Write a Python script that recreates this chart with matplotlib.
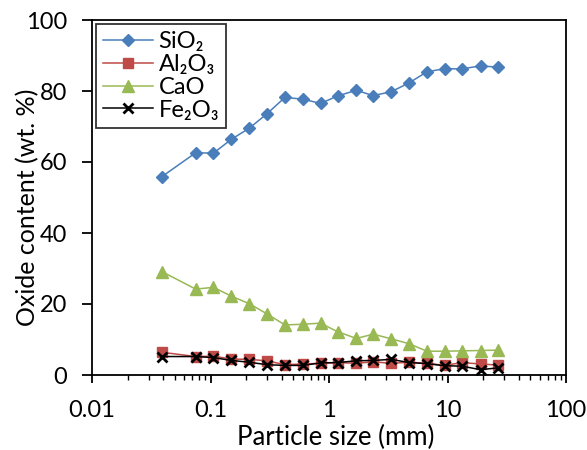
import matplotlib
matplotlib.use("Agg")
import matplotlib.pyplot as plt
from matplotlib.ticker import LogLocator, FixedLocator, NullFormatter

plt.rcParams['font.family'] = ['Lato', 'DejaVu Sans']

# ---- DATA ----
size_mm = [0.039, 0.075, 0.106, 0.15, 0.212, 0.3, 0.425, 0.6, 0.85, 1.18,
           1.7, 2.36, 3.35, 4.75, 6.7, 9.5, 13.2, 19.0, 26.5]
sio2 = [55.9, 62.6, 62.5, 66.4, 69.5, 73.6, 78.2, 77.7, 76.5, 78.6,
        80.2, 78.7, 79.8, 82.3, 85.4, 86.3, 86.2, 87.1, 86.7]
al2o3 = [6.4, 5.2, 5.3, 4.5, 4.4, 4.0, 2.9, 3.1, 3.3, 3.5,
         3.3, 3.7, 3.3, 3.6, 3.3, 2.7, 3.5, 3.1, 2.8]
cao = [29.1, 24.2, 24.7, 22.2, 20.1, 17.2, 14.1, 14.3, 14.6, 12.2,
       10.3, 11.5, 10.2, 8.8, 6.7, 6.7, 6.8, 6.9, 7.0]
fe2o3 = [5.2, 5.2, 4.9, 4.1, 3.6, 2.9, 2.7, 2.7, 3.4, 3.5,
         4.0, 4.1, 4.4, 3.5, 3.2, 2.6, 2.5, 1.5, 2.0]
y_ticks = [0, 20, 40, 60, 80, 100]
x_ticks = [0.01, 0.1, 1, 10, 100]
x_tick_labels = ["0.01", "0.1", "1", "10", "100"]

FS = 17

fig = plt.figure(figsize=(5.87, 4.5), dpi=100)
ax = fig.add_axes([92 / 587, 75 / 450, 474 / 587, 355 / 450])

ax.plot(size_mm, sio2, "-D", color="#4A7EBB", mfc="#4A7EBB", mec="#4A7EBB",
        ms=6, lw=1.1, label="SiO₂")
ax.plot(size_mm, al2o3, "-s", color="#BE4B48", mfc="#BE4B48", mec="#BE4B48",
        ms=7, lw=1.1, label="Al₂O₃")
ax.plot(size_mm, cao, "-^", color="#98B954", mfc="#98B954", mec="#98B954",
        ms=8, lw=1.1, label="CaO")
ax.plot(size_mm, fe2o3, "-x", color="black", ms=6.5, mew=2.0, lw=1.1,
        label="Fe₂O₃")

ax.set_xscale("log")
ax.set_xlim(0.01, 100)
ax.set_ylim(0, 100)

ax.xaxis.set_major_locator(FixedLocator(x_ticks))
ax.set_xticklabels(x_tick_labels)
ax.xaxis.set_minor_locator(LogLocator(base=10, subs=range(2, 10)))
ax.xaxis.set_minor_formatter(NullFormatter())
ax.set_yticks(y_ticks)

for s in ax.spines.values():
    s.set_linewidth(1.3)
    s.set_color("black")

ax.tick_params(axis="x", which="major", direction="out", length=6, width=1.3,
               labelsize=FS, pad=12)
ax.tick_params(axis="x", which="minor", direction="out", length=3.5, width=1.0)
ax.tick_params(axis="y", which="major", direction="out", length=7, width=1.3,
               labelsize=FS, pad=11)

ax.set_xlabel("Particle size (mm)", fontsize=18.5)
ax.set_ylabel("Oxide content (wt. %)", fontsize=18)
ax.xaxis.set_label_coords(0.515, -0.14)
ax.yaxis.set_label_coords(-0.112, 0.472)

leg = ax.legend(loc="upper left", bbox_to_anchor=(4 / 474, 351 / 355),
                borderaxespad=0, fontsize=FS, frameon=True, fancybox=False,
                handlelength=2.1, handletextpad=0.25, labelspacing=0.08,
                borderpad=0.3)
leg.get_frame().set_edgecolor("black")
leg.get_frame().set_linewidth(1.3)

fig.savefig("out.png", dpi=100)
